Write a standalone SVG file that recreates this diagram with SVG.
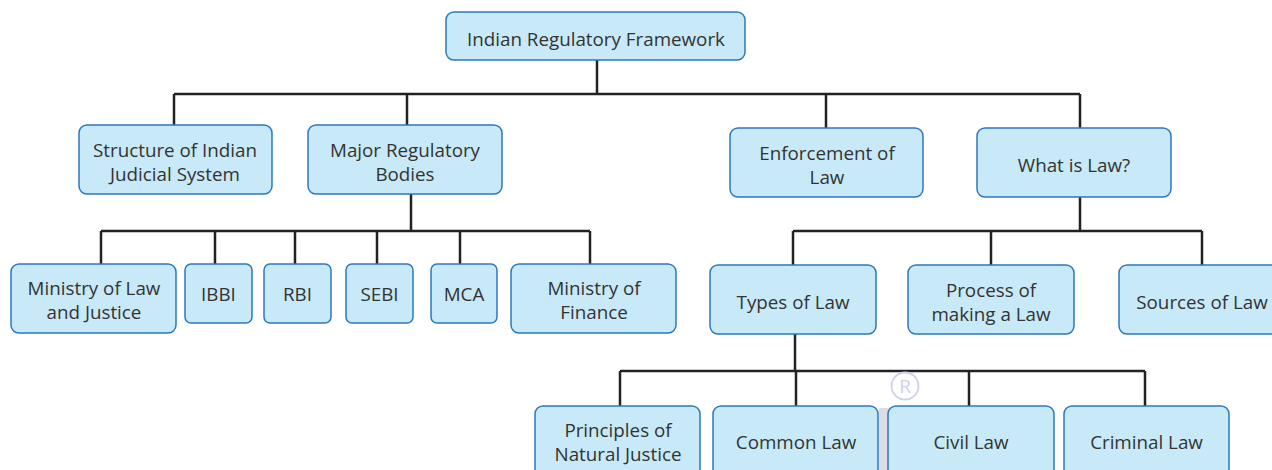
<svg xmlns="http://www.w3.org/2000/svg" width="1272" height="470" viewBox="0 0 1272 470">
<style>
.box{fill:#c8e9f8;stroke:#2c78bd;stroke-width:1.5}
.t{font-family:"Open Sans","Noto Sans",sans-serif;font-size:18.8px;fill:#333;text-anchor:middle}
.c{fill:none;stroke:#222;stroke-width:2.5}
</style>
<rect width="1272" height="470" fill="#fff"/>
<g id="connectors">
<path class="c" d="M597 60V94M174 94H1080M174 94V125M407 94V125M826 94V128M1080 94V128"/>
<path class="c" d="M411 194V231M101 231H590M101 231V264M215 231V264M295 231V264M377 231V264M460 231V264M590 231V264"/>
<path class="c" d="M1080 197V231M793 231H1202M793 231V265M991 231V265M1202 231V265"/>
<path class="c" d="M795 334V371M620 371H1145M620 371V406M796 371V406M969 371V406M1145 371V406"/>
</g>
<rect x="879" y="408" width="10" height="62" fill="#dcdce8"/>
<g id="watermark">
<circle cx="905" cy="386" r="13.5" fill="none" stroke="#d0d0ea" stroke-width="1.8"/>
<text x="905" y="393" font-family="Open Sans, sans-serif" font-size="19" fill="#d0d0ea" text-anchor="middle">R</text>
</g>
<g id="root"><rect class="box" x="446" y="12" width="299" height="48" rx="8"/><text class="t" x="596" y="46">Indian Regulatory Framework</text></g>
<g id="structure"><rect class="box" x="79" y="125" width="193" height="69" rx="8"/><text class="t" x="175" y="157">Structure of Indian</text><text class="t" x="175" y="181">Judicial System</text></g>
<g id="major"><rect class="box" x="308" y="125" width="194" height="69" rx="8"/><text class="t" x="405" y="157">Major Regulatory</text><text class="t" x="405" y="181">Bodies</text></g>
<g id="enforcement"><rect class="box" x="730" y="128" width="193" height="69" rx="8"/><text class="t" x="827" y="160">Enforcement of</text><text class="t" x="827" y="184">Law</text></g>
<g id="whatislaw"><rect class="box" x="977" y="128" width="194" height="69" rx="8"/><text class="t" x="1074" y="172">What is Law?</text></g>
<g id="mol"><rect class="box" x="11" y="264" width="165" height="69" rx="8"/><text class="t" x="94" y="295">Ministry of Law</text><text class="t" x="94" y="319">and Justice</text></g>
<g id="ibbi"><rect class="box" x="185" y="264" width="67" height="59" rx="6"/><text class="t" x="218.5" y="301">IBBI</text></g>
<g id="rbi"><rect class="box" x="264" y="264" width="67" height="59" rx="6"/><text class="t" x="297.5" y="301">RBI</text></g>
<g id="sebi"><rect class="box" x="346" y="264" width="67" height="59" rx="6"/><text class="t" x="379.5" y="301">SEBI</text></g>
<g id="mca"><rect class="box" x="431" y="264" width="66" height="59" rx="6"/><text class="t" x="464" y="301">MCA</text></g>
<g id="mof"><rect class="box" x="511" y="264" width="165" height="69" rx="8"/><text class="t" x="594" y="295">Ministry of</text><text class="t" x="594" y="319">Finance</text></g>
<g id="types"><rect class="box" x="710" y="265" width="166" height="69" rx="8"/><text class="t" x="793" y="309">Types of Law</text></g>
<g id="process"><rect class="box" x="908" y="265" width="166" height="69" rx="8"/><text class="t" x="991" y="297">Process of</text><text class="t" x="991" y="321">making a Law</text></g>
<g id="sources"><rect class="box" x="1119" y="265" width="162" height="69" rx="8"/><text class="t" x="1202" y="309">Sources of Law</text></g>
<g id="principles"><rect class="box" x="535" y="406" width="165" height="72" rx="8"/><text class="t" x="618" y="437">Principles of</text><text class="t" x="618" y="461">Natural Justice</text></g>
<g id="common"><rect class="box" x="713" y="406" width="165" height="72" rx="8"/><text class="t" x="796" y="449">Common Law</text></g>
<g id="civil"><rect class="box" x="888" y="406" width="166" height="72" rx="8"/><text class="t" x="971" y="449">Civil Law</text></g>
<g id="criminal"><rect class="box" x="1064" y="406" width="165" height="72" rx="8"/><text class="t" x="1146.5" y="449">Criminal Law</text></g>
</svg>
